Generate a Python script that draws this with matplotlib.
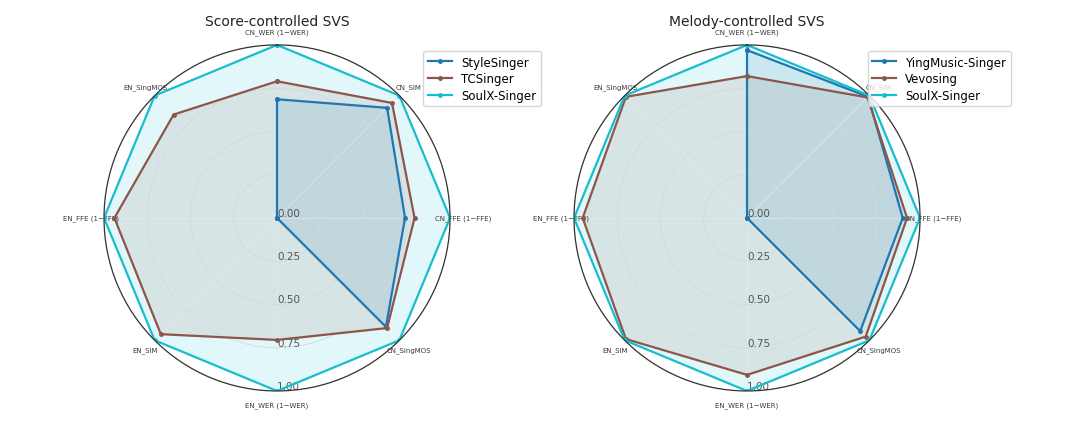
import numpy as np
import matplotlib.pyplot as plt

metrics = ['CN_WER (1−WER)', 'CN_SIM', 'CN_FFE (1−FFE)', 'CN_SingMOS',
           'EN_WER (1−WER)', 'EN_SIM', 'EN_FFE (1−FFE)', 'EN_SingMOS']

score_models = ['StyleSinger', 'TCSinger', 'SoulX-Singer']
style_singer = [0.686, 0.90, 0.74, 0.89, 0.0, 0.0, 0.0, 0.0]
tc_singer = [0.79, 0.94, 0.795, 0.90, 0.705, 0.95, 0.94, 0.845]
soulx_score = [1.0, 1.0, 1.0, 1.0, 1.0, 1.0, 1.0, 1.0]

melody_models = ['YingMusic-Singer', 'Vevosing', 'SoulX-Singer']
yingmusic = [0.97, 0.99, 0.90, 0.925, 0.0, 0.0, 0.0, 0.0]
vevosing = [0.82, 0.985, 0.925, 0.97, 0.907, 0.99, 0.95, 0.99]
soulx_melody = [1.0, 1.0, 1.0, 1.0, 1.0, 1.0, 1.0, 1.0]

colors = ['#1f77b4', '#8c564b', '#17becf']


def draw_radar(ax, title, names, series):
    n = len(metrics)
    angles = np.linspace(0, 2 * np.pi, n, endpoint=False).tolist()
    angles += angles[:1]

    ax.set_theta_offset(np.pi / 2)
    ax.set_theta_direction(-1)

    for name, vals, c in zip(names, series, colors):
        v = list(vals) + [vals[0]]
        ax.plot(angles, v, color=c, linewidth=1.6, marker='o', markersize=2.5, label=name)
        ax.fill(angles, v, color=c, alpha=0.12)

    ax.set_xticks(angles[:-1])
    ax.set_xticklabels(metrics, fontsize=5, color='#3a3a3a')
    ax.tick_params(axis='x', pad=-1)
    ax.set_ylim(0, 1)
    ax.set_yticks([0, 0.25, 0.5, 0.75, 1.0])
    ax.set_yticklabels(['0.00', '0.25', '0.50', '0.75', '1.00'], fontsize=7.5, color='#555555')
    ax.set_rlabel_position(180)
    ax.yaxis.grid(True, color='#d8d8d8', linewidth=0.6)
    ax.xaxis.grid(True, color='#ececec', linewidth=0.4)
    ax.spines['polar'].set_color('#333333')
    ax.spines['polar'].set_linewidth(0.9)
    ax.set_title(title, fontsize=10, color='#222222', pad=2)
    ax.legend(loc='upper right', bbox_to_anchor=(1.28, 1.0), fontsize=8.5, labelspacing=0.3)


fig = plt.figure(figsize=(10.8, 4.31), dpi=100)
ax1 = fig.add_axes([0.0963, 0.0905, 0.3204, 0.803], projection='polar')
ax2 = fig.add_axes([0.5315, 0.0905, 0.3204, 0.803], projection='polar')

draw_radar(ax1, 'Score-controlled SVS', score_models, [style_singer, tc_singer, soulx_score])
draw_radar(ax2, 'Melody-controlled SVS', melody_models, [yingmusic, vevosing, soulx_melody])

fig.savefig('out.png', dpi=100)
